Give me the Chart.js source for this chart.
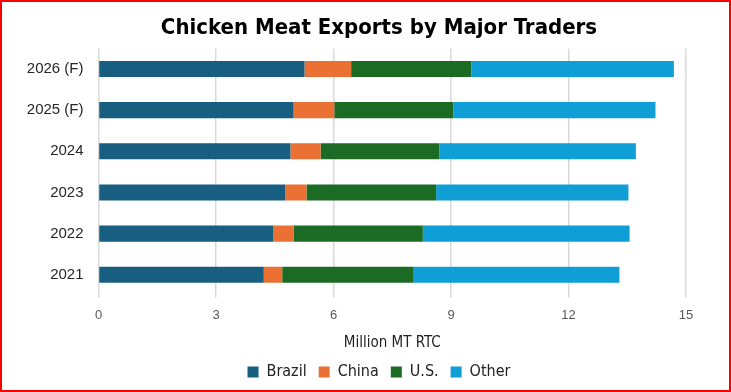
<!DOCTYPE html>
<html>
<head>
<meta charset="utf-8">
<script src="https://cdn.jsdelivr.net/npm/chart.js@4"></script>
<style>
    html, body { margin: 0; padding: 0; background: #fff; }
    #wrap {
        width: 731px; height: 392px; box-sizing: border-box;
        border: 2px solid #ff0000; position: relative; background: #fff;
    }
    canvas { display: block; }
</style>
</head>
<body>
<div id="wrap"><canvas id="chart" width="727" height="388"></canvas></div>
<script>
    // Chart data (million MT RTC)
    const years = ['2026 (F)', '2025 (F)', '2024', '2023', '2022', '2021'];
    const brazil = [5.26, 4.98, 4.90, 4.77, 4.46, 4.22];
    const china = [1.19, 1.04, 0.77, 0.54, 0.52, 0.47];
    const us = [3.07, 3.04, 3.03, 3.31, 3.30, 3.34];
    const other = [5.17, 5.16, 5.02, 4.91, 5.28, 5.27];
    const xTicks = [0, 3, 6, 9, 12, 15];

    const narrow = "'Liberation Sans Narrow', 'DejaVu Sans Condensed', sans-serif";
    Chart.defaults.font.family = "'Liberation Sans', sans-serif";

    // y labels hang into the left padding, so widen the label clip box after layout
    const unclipY = {
        id: 'unclipY',
        afterLayout(chart) { chart.scales.y.left = 0; }
    };

    const ctx = document.getElementById('chart').getContext('2d');
    new Chart(ctx, {
        type: 'bar',
        data: {
            labels: years,
            datasets: [
                { label: 'Brazil', data: brazil, backgroundColor: '#185e80' },
                { label: 'China', data: china, backgroundColor: '#ea7133' },
                { label: 'U.S.', data: us, backgroundColor: '#1c6b25' },
                { label: 'Other', data: other, backgroundColor: '#0f9ed5' }
            ]
        },
        options: {
            responsive: false,
            animation: false,
            indexAxis: 'y',
            datasets: { bar: { categoryPercentage: 1, barPercentage: 0.39 } },
            // big left padding so title / legend centre sits where the original has them
            layout: { padding: { left: 70, right: 43, top: 4, bottom: 0 } },
            plugins: {
                title: {
                    display: true,
                    text: 'Chicken Meat Exports by Major Traders',
                    color: '#000',
                    font: { family: narrow, size: 22, weight: 'bold' },
                    padding: { top: 9, bottom: 7 }
                },
                legend: {
                    position: 'bottom',
                    labels: {
                        color: '#222',
                        boxWidth: 11, boxHeight: 11,
                        padding: 12,
                        font: { family: narrow, size: 16 }
                    }
                },
                tooltip: { enabled: false }
            },
            scales: {
                x: {
                    stacked: true,
                    min: 0, max: 15,
                    afterBuildTicks: (axis) => { axis.ticks = xTicks.map(v => ({ value: v })); },
                    grid: { color: '#d9d9d9', lineWidth: 1.5, tickLength: 2 },
                    border: { display: false },
                    ticks: { color: '#595959', font: { size: 13 }, padding: 10 },
                    title: {
                        display: true, text: 'Million MT RTC', color: '#222',
                        font: { family: narrow, size: 15 }, padding: { top: 1, bottom: 0 }
                    }
                },
                y: {
                    stacked: true,
                    afterFit: (axis) => { axis.width = 26.5; },
                    grid: { display: false, drawTicks: false },
                    border: { display: false },
                    ticks: { color: '#262626', font: { size: 15 }, padding: 15 }
                }
            }
        },
        plugins: [unclipY]
    });
</script>
</body>
</html>
